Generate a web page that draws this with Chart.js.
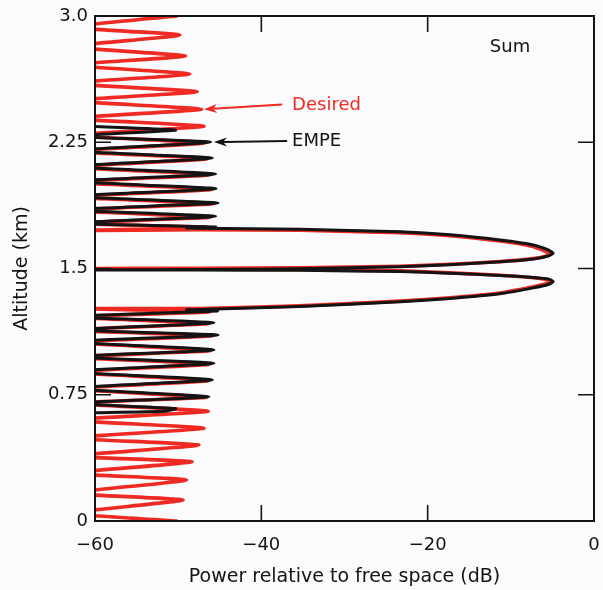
<!DOCTYPE html>
<html>
<head>
<meta charset="utf-8">
<script src="https://cdn.jsdelivr.net/npm/chart.js@4/dist/chart.umd.min.js"></script>
<style>
  html, body { margin: 0; padding: 0; background: #fbfafc; }
  #wrap { width: 603px; height: 590px; }
</style>
</head>
<body>
<div id="wrap"><canvas id="chart" width="603" height="590"></canvas></div>
<script>
// Sum: desired vs EMPE, power (dB) against altitude (km)
const xTicks = [-60, -40, -20, 0];
const xTickLabels = ['\u221260', '\u221240', '\u221220', '0'];
const yTicks = [0, 0.75, 1.5, 2.25, 3.0];
const yTickLabels = ['0', '0.75', '1.5', '2.25', '3.0'];

// Desired (red)
const desiredPower = [
  -50.2, -63, -49.4, -63, -49.0, -63, -48.3, -63, -47.5, -63,
  -46.9, -63, -46.4, -63, -46.6, -63, -46.3, -63, -46.2, -63,
  -46.2, -63, -45.9, -63, -46.3, -63, -46.2, -63,
  -47.4, -35.4, -23.3, -17.3, -11.3, -7.6, -5.9, -5.3, -5.8, -7.6,
  -11.3, -17.3, -23.3, -35.4, -47.4, -63, -47.4, -35.4, -23.3, -17.3,
  -11.3, -7.6, -5.8, -5.3, -5.9, -7.6, -11.3, -17.3, -23.3, -35.4,
  -47.4, -63, -46.6, -63, -46.2, -63, -45.8, -63, -46.0, -63,
  -46.2, -63, -46.5, -63, -46.9, -63, -46.9, -63, -47.2, -63,
  -47.7, -63, -48.6, -63, -49.1, -63, -49.8, -63, -50.2,
];
const desiredAlt = [
  0.000, 0.046, 0.125, 0.165, 0.244, 0.283, 0.352, 0.385, 0.451, 0.493,
  0.551, 0.600, 0.652, 0.700, 0.735, 0.785, 0.834, 0.884, 0.932, 0.973,
  1.012, 1.062, 1.100, 1.133, 1.174, 1.211, 1.243, 1.263,
  1.262, 1.278, 1.306, 1.326, 1.354, 1.388, 1.408, 1.422, 1.436, 1.447,
  1.460, 1.474, 1.486, 1.494, 1.498, 1.500, 1.501, 1.504, 1.513, 1.525,
  1.541, 1.557, 1.573, 1.588, 1.604, 1.634, 1.663, 1.695, 1.713, 1.727,
  1.731, 1.724, 1.746, 1.768, 1.805, 1.845, 1.885, 1.925, 1.970, 2.014,
  2.057, 2.103, 2.152, 2.196, 2.246, 2.292, 2.345, 2.392, 2.446, 2.497,
  2.550, 2.600, 2.655, 2.709, 2.762, 2.818, 2.887, 2.933, 3.000,
];

// EMPE (black)
const empePower = [
  -60, -51.5, -50.3, -63, -46.3, -63, -45.9, -63, -45.7, -63,
  -45.7, -63, -45.2, -63, -45.7, -63, -45.3, -49.0,
  -47.4, -35.4, -23.3, -17.3, -11.3, -7.3, -5.5, -4.9, -5.4, -7.3,
  -11.3, -17.3, -23.3, -35.4, -47.4, -63, -47.4, -35.4, -23.3, -17.3,
  -11.3, -7.3, -5.5, -4.9, -5.5, -7.3, -11.3, -17.3, -23.3, -35.4,
  -47.4, -49.0, -45.5, -63, -45.5, -63, -45.2, -63, -45.45, -63,
  -45.5, -63, -45.9, -63, -46.1, -63, -50.3, -60,
];
const empeAlt = [
  0.643, 0.652, 0.668, 0.699, 0.738, 0.788, 0.838, 0.887, 0.937, 0.976,
  1.016, 1.065, 1.105, 1.135, 1.178, 1.214, 1.248, 1.254,
  1.256, 1.274, 1.302, 1.322, 1.350, 1.385, 1.405, 1.422, 1.437, 1.447,
  1.459, 1.472, 1.482, 1.489, 1.491, 1.492, 1.494, 1.499, 1.510, 1.523,
  1.540, 1.557, 1.574, 1.590, 1.610, 1.640, 1.669, 1.700, 1.718, 1.733,
  1.739, 1.741, 1.747, 1.770, 1.810, 1.849, 1.889, 1.929, 1.974, 2.018,
  2.061, 2.107, 2.156, 2.200, 2.251, 2.285, 2.322, 2.343,
];

const RED = '#ee2a22';
const BLACK = '#141414';
const FONT = 'DejaVu Sans';
const TICK_LEN = 16;

const notes = [
  { text: 'Sum', x: -10.1, y: 2.816, color: BLACK, align: 'center' },
  { text: 'Desired', x: -36.3, y: 2.471, color: RED, align: 'left' },
  { text: 'EMPE', x: -36.3, y: 2.257, color: BLACK, align: 'left' },
];
const arrows = [
  { from: [-37.5, 2.474], to: [-46.9, 2.446], color: RED },
  { from: [-36.9, 2.257], to: [-45.7, 2.251], color: BLACK },
];

function toPoints(xs, ys) {
  return xs.map((v, i) => ({ x: v, y: ys[i] }));
}

function drawArrow(ctx, x0, y0, x1, y1, color) {
  const a = Math.atan2(y1 - y0, x1 - x0);
  const c = Math.cos(a);
  const s = Math.sin(a);
  const len = 13;
  const half = 4.5;
  ctx.strokeStyle = color;
  ctx.fillStyle = color;
  ctx.lineWidth = 2;
  ctx.beginPath();
  ctx.moveTo(x0, y0);
  ctx.lineTo(x1 - c * len * 0.7, y1 - s * len * 0.7);
  ctx.stroke();
  ctx.beginPath();
  ctx.moveTo(x1, y1);
  ctx.lineTo(x1 - c * len + s * half, y1 - s * len - c * half);
  ctx.lineTo(x1 - c * len * 0.7, y1 - s * len * 0.7);
  ctx.lineTo(x1 - c * len - s * half, y1 - s * len + c * half);
  ctx.closePath();
  ctx.fill();
}

const frame = {
  id: 'frame',
  afterDatasetsDraw(chart) {
    const { ctx, chartArea: a, scales: { x, y } } = chart;
    ctx.save();
    ctx.strokeStyle = BLACK;
    ctx.lineWidth = 2;
    ctx.strokeRect(a.left, a.top, a.right - a.left, a.bottom - a.top);
    ctx.lineWidth = 1.6;
    ctx.beginPath();
    xTicks.slice(1, -1).forEach((v) => {
      const px = x.getPixelForValue(v);
      ctx.moveTo(px, a.bottom);
      ctx.lineTo(px, a.bottom - TICK_LEN);
      ctx.moveTo(px, a.top);
      ctx.lineTo(px, a.top + TICK_LEN);
    });
    yTicks.slice(1, -1).forEach((v) => {
      const py = y.getPixelForValue(v);
      ctx.moveTo(a.left, py);
      ctx.lineTo(a.left + TICK_LEN, py);
      ctx.moveTo(a.right, py);
      ctx.lineTo(a.right - TICK_LEN, py);
    });
    ctx.stroke();

    arrows.forEach((ar) => {
      drawArrow(
        ctx,
        x.getPixelForValue(ar.from[0]), y.getPixelForValue(ar.from[1]),
        x.getPixelForValue(ar.to[0]), y.getPixelForValue(ar.to[1]),
        ar.color,
      );
    });

    ctx.font = `18px "${FONT}"`;
    ctx.textBaseline = 'middle';
    notes.forEach((n) => {
      ctx.fillStyle = n.color;
      ctx.textAlign = n.align;
      ctx.fillText(n.text, x.getPixelForValue(n.x), y.getPixelForValue(n.y));
    });
    ctx.restore();
  },
};

const lineStyle = {
  showLine: true,
  pointRadius: 0,
  pointHoverRadius: 0,
  tension: 0.15,
  borderJoinStyle: 'round',
  borderCapStyle: 'round',
  clip: 0,
};

new Chart(document.getElementById('chart'), {
  type: 'scatter',
  data: {
    datasets: [
      { label: 'EMPE', data: toPoints(empePower, empeAlt), borderColor: BLACK, borderWidth: 3, ...lineStyle },
      { label: 'Desired', data: toPoints(desiredPower, desiredAlt), borderColor: RED, borderWidth: 3.6, ...lineStyle },
    ],
  },
  options: {
    responsive: false,
    animation: false,
    events: [],
    layout: { padding: { top: 16, right: 9, left: 0, bottom: 0 } },
    plugins: { legend: { display: false }, tooltip: { enabled: false } },
    scales: {
      x: {
        type: 'linear',
        min: -60,
        max: 0,
        afterBuildTicks: (s) => { s.ticks = xTicks.map((v) => ({ value: v })); },
        afterFit: (s) => {
          s.height = 69;
          s.paddingLeft = 0;
          s.paddingRight = 0;
        },
        grid: { display: false, drawTicks: false },
        border: { display: false },
        ticks: {
          padding: 14,
          color: BLACK,
          font: { family: FONT, size: 18 },
          maxRotation: 0,
          callback: (v, i) => xTickLabels[i],
        },
        title: {
          display: true,
          text: 'Power relative to free space (dB)',
          color: BLACK,
          font: { family: FONT, size: 19 },
          padding: { top: 0, bottom: 2 },
        },
      },
      y: {
        type: 'linear',
        min: 0,
        max: 3,
        afterBuildTicks: (s) => { s.ticks = yTicks.map((v) => ({ value: v })); },
        afterFit: (s) => {
          s.width = 95;
          s.paddingTop = 0;
          s.paddingBottom = 0;
        },
        grid: { display: false, drawTicks: false },
        border: { display: false },
        ticks: {
          padding: 7,
          color: BLACK,
          font: { family: FONT, size: 18 },
          callback: (v, i) => yTickLabels[i],
        },
        title: {
          display: true,
          text: 'Altitude (km)',
          color: BLACK,
          font: { family: FONT, size: 19 },
          padding: { top: 11, bottom: 0 },
        },
      },
    },
  },
  plugins: [frame],
});
</script>
</body>
</html>
